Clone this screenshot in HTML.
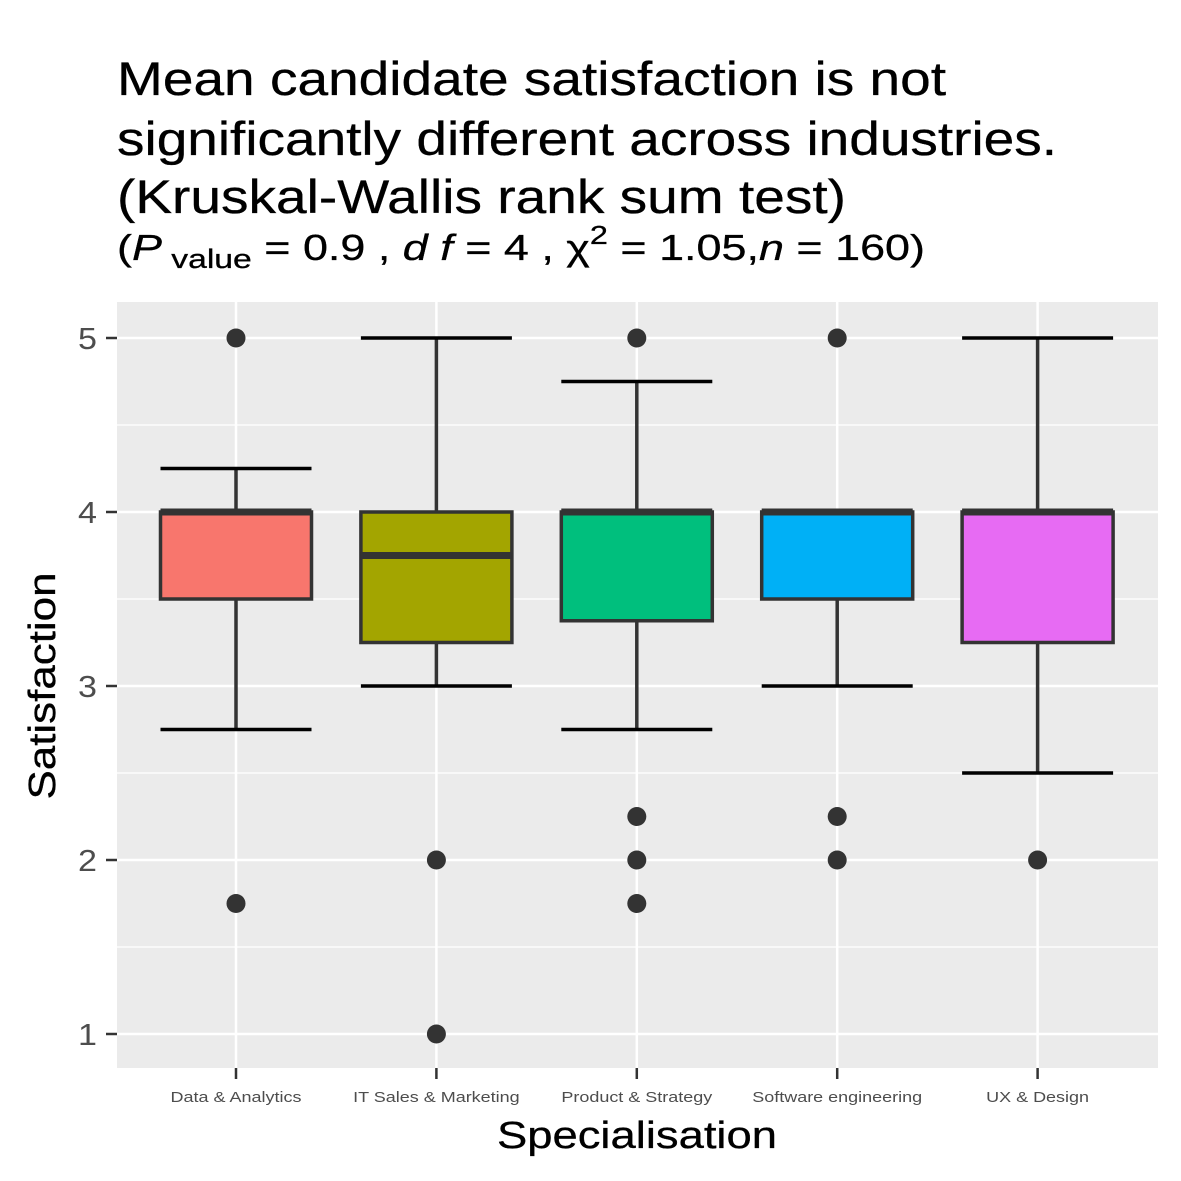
<!DOCTYPE html>
<html><head><meta charset="utf-8"><style>
body{margin:0;background:#fff}
svg{display:block;font-family:"Liberation Sans",Arial,sans-serif}
</style></head><body>
<svg id="chart" width="1181" height="1181" viewBox="0 0 1181 1181">
<rect width="1181" height="1181" fill="#fff"/>
<g font-size="47" fill="#000" stroke="#000" stroke-width="0.3">
<text x="117" y="95" textLength="829" lengthAdjust="spacingAndGlyphs">Mean candidate satisfaction is not</text>
<text x="117" y="155" textLength="940" lengthAdjust="spacingAndGlyphs">significantly different across industries.</text>
<text x="117" y="213" textLength="729" lengthAdjust="spacingAndGlyphs">(Kruskal-Wallis rank sum test)</text>
</g>
<text x="117" y="260" font-size="36" fill="#000" stroke="#000" stroke-width="0.3" textLength="808" lengthAdjust="spacingAndGlyphs">(<tspan font-style="italic">P</tspan><tspan font-size="27" dy="8"> value</tspan><tspan dy="-8"> = 0.9 , </tspan><tspan font-style="italic">d f</tspan> = 4 , χ<tspan font-size="26" dy="-16">2</tspan><tspan dy="16"> = 1.05,</tspan><tspan font-style="italic">n</tspan> = 160)</text>
<rect x="117" y="302" width="1041" height="766" fill="#ebebeb"/>
<g id="grid"></g>
<g id="marks"></g>
<g id="axes"></g>
<text transform="translate(55,686) rotate(-90)" text-anchor="middle" font-size="38" stroke="#000" stroke-width="0.3" textLength="227" lengthAdjust="spacingAndGlyphs">Satisfaction</text>
<text x="637" y="1148" text-anchor="middle" font-size="38" stroke="#000" stroke-width="0.3" textLength="280" lengthAdjust="spacingAndGlyphs">Specialisation</text>
</svg>
<script>
const categories=["Data & Analytics","IT Sales & Marketing","Product & Strategy","Software engineering","UX & Design"];
const colors=["#F8766D","#A3A500","#00BF7D","#00B0F6","#E76BF3"];
const whiskerLow=[2.75,3,2.75,3,2.5];
const q1=[3.5,3.25,3.375,3.5,3.25];
const medians=[4,3.75,4,4,4];
const q3=[4,4,4,4,4];
const whiskerHigh=[4.25,5,4.75,4,5];
const outliers=[[5,1.75],[2,1],[5,2.25,2,1.75],[5,2.25,2],[2]];
const yTicks=[1,2,3,4,5];
const yMinor=[1.5,2.5,3.5,4.5];
const NS="http://www.w3.org/2000/svg";
const y=v=>1034-(v-1)*174;
const x=i=>236+i*200.4;
const bw=151;
function mk(tag,attrs,parent){const e=document.createElementNS(NS,tag);for(const k in attrs)e.setAttribute(k,attrs[k]);parent.appendChild(e);return e;}
const grid=document.getElementById('grid'),marks=document.getElementById('marks'),axes=document.getElementById('axes');
yMinor.forEach(v=>{const l=mk('line',{x1:117,x2:1158,y1:y(v),y2:y(v),stroke:'#fff','stroke-width':1.2},grid);

});
yTicks.forEach(v=>{const l=mk('line',{x1:117,x2:1158,y1:y(v),y2:y(v),stroke:'#fff','stroke-width':2.5},grid);


const t=mk('line',{x1:106,x2:117,y1:y(v),y2:y(v),stroke:'#333','stroke-width':2.5},axes);


const tx=mk('text',{x:97,y:y(v)+11,'text-anchor':'end','font-size':31,fill:'#4d4d4d',transform:'translate(97,0) scale(1.1,1) translate(-97,0)'},axes);tx.textContent=v;

});
categories.forEach((c,i)=>{const cx=x(i);
const g=mk('line',{x1:cx,x2:cx,y1:302,y2:1068,stroke:'#fff','stroke-width':2.5},grid);


const t=mk('line',{x1:cx,x2:cx,y1:1068,y2:1079,stroke:'#333','stroke-width':2.5},axes);


const tx=mk('text',{x:cx,y:1102,'text-anchor':'middle','font-size':15,fill:'#4d4d4d',transform:'translate('+cx+',0) scale(1.2,1) translate('+(-cx)+',0)'},axes);tx.textContent=c;


const grp=mk('g',{},marks);


mk('line',{x1:cx,x2:cx,y1:y(whiskerLow[i]),y2:y(q1[i]),stroke:'#333','stroke-width':3.5},grp);
mk('line',{x1:cx,x2:cx,y1:y(whiskerHigh[i]),y2:y(q3[i]),stroke:'#333','stroke-width':3.5},grp);
mk('line',{x1:cx-bw/2,x2:cx+bw/2,y1:y(whiskerLow[i]),y2:y(whiskerLow[i]),stroke:'#000','stroke-width':3.5},grp);
mk('line',{x1:cx-bw/2,x2:cx+bw/2,y1:y(whiskerHigh[i]),y2:y(whiskerHigh[i]),stroke:'#000','stroke-width':3.5},grp);
mk('rect',{x:cx-bw/2,y:y(q3[i]),width:bw,height:y(q1[i])-y(q3[i]),fill:colors[i],stroke:'#333','stroke-width':3.5},grp);
mk('line',{x1:cx-bw/2,x2:cx+bw/2,y1:y(medians[i]),y2:y(medians[i]),stroke:'#333','stroke-width':7},grp);
outliers[i].forEach(o=>{const p=mk('circle',{cx:cx,cy:y(o),r:9.5,fill:'#333'},grp);

});
});
</script>
</body></html>
